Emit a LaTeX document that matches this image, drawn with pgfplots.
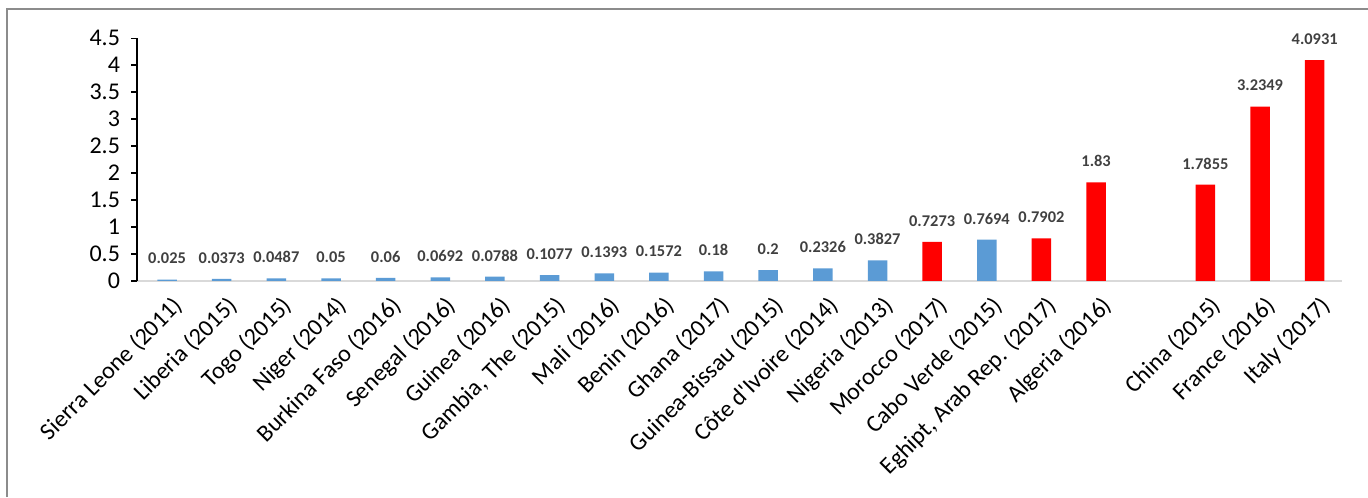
\documentclass[border=0pt]{standalone}
\usepackage{pgfplots}
\pgfplotsset{compat=1.18}
\usepackage{fontspec}
\setmainfont{Carlito}
\definecolor{barblue}{HTML}{5B9BD5}
\definecolor{barred}{HTML}{FF0000}
\definecolor{lblgray}{HTML}{404040}
\definecolor{framegray}{HTML}{8C8C8C}
\definecolor{axgray}{HTML}{D9D9D9}
\begin{document}
\begin{tikzpicture}
\useasboundingbox (0,0) rectangle (684pt,248.5pt);
\draw[framegray, line width=1.2pt] (3.5pt,0) -- (3.5pt,244pt) -- (684pt,244pt);
\begin{axis}[
  at={(68.5pt,108pt)}, anchor=south west,
  width=602.5pt, height=121.35pt, scale only axis,
  xmin=-0.55, xmax=21.5, ymin=0, ymax=4.5,
  axis x line*=bottom, axis y line*=left,
  x axis line style={axgray, line width=1pt},
  y axis line style={black, line width=0.8pt},
  ytick={0,0.5,1,1.5,2,2.5,3,3.5,4,4.5},
  xtick={0,1,2,3,4,5,6,7,8,9,10,11,12,13,14,15,16,17,19,20,21},
  xticklabels={Sierra Leone (2011),Liberia (2015),Togo (2015),Niger (2014),Burkina Faso (2016),Senegal (2016),Guinea (2016),{Gambia, The (2015)},Mali (2016),Benin (2016),Ghana (2017),Guinea-Bissau (2015),C\^ote d\textquotesingle Ivoire (2014),Nigeria (2013),Morocco (2017),Cabo Verde (2015),{Eghipt, Arab Rep. (2017)},Algeria (2016),China (2015),France (2016),Italy (2017)},
  tick align=outside,
  xtick style={draw=none},
  ytick style={black, line width=0.8pt},
  major tick length=3pt,
  /pgf/number format/assume math mode=true,
  /pgf/number format/fixed,
  yticklabel style={font=\fontsize{12}{14}\selectfont, anchor=east, xshift=-2pt},
  xticklabel style={font=\fontsize{12}{14}\selectfont, rotate=45, anchor=north east, inner sep=1pt, yshift=-3pt},
  clip=false,
]
\addplot[ybar, bar width=9.75pt, bar shift=0pt, fill=barblue, draw=none,
  nodes near coords, point meta=explicit symbolic,
  nodes near coords style={font=\bfseries\fontsize{8.2}{10}\selectfont, text=lblgray, anchor=center, yshift=10.5pt}]
table[x=x, y=y, meta=lab] {
x y lab
0 0.025 0.025
1 0.0373 0.0373
2 0.0487 0.0487
3 0.05 0.05
4 0.06 0.06
5 0.0692 0.0692
6 0.0788 0.0788
7 0.1077 0.1077
8 0.1393 0.1393
9 0.1572 0.1572
10 0.18 0.18
11 0.2 0.2
12 0.2326 0.2326
13 0.3827 0.3827
15 0.7694 0.7694
};
\addplot[ybar, bar width=9.75pt, bar shift=0pt, fill=barred, draw=none,
  nodes near coords, point meta=explicit symbolic,
  nodes near coords style={font=\bfseries\fontsize{8.2}{10}\selectfont, text=lblgray, anchor=center, yshift=10.5pt}]
table[x=x, y=y, meta=lab] {
x y lab
14 0.7273 0.7273
16 0.7902 0.7902
17 1.83 1.83
19 1.7855 1.7855
20 3.2349 3.2349
21 4.0931 4.0931
};
\end{axis}
\end{tikzpicture}
\end{document}
